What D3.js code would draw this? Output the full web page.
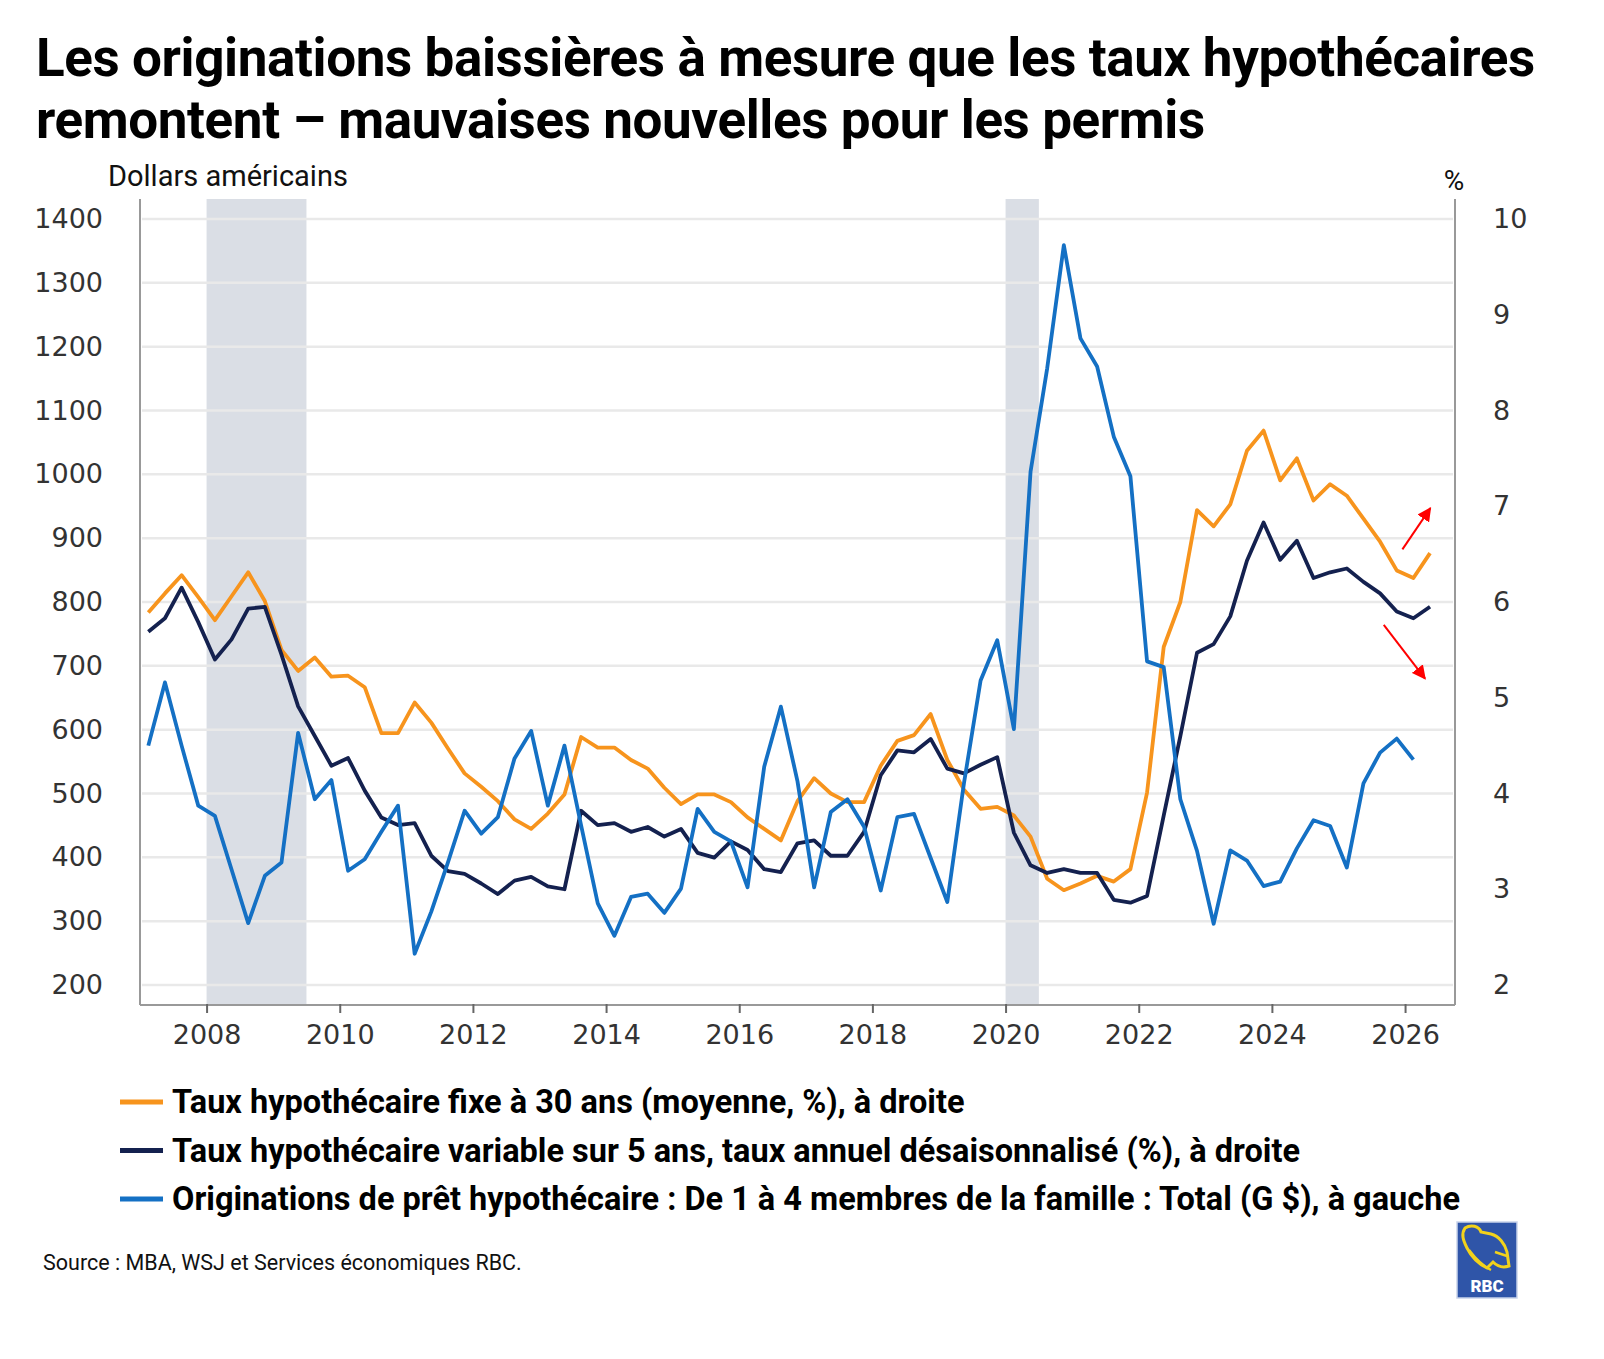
<!DOCTYPE html>
<html>
<head>
<meta charset="utf-8">
<script src="https://cdn.jsdelivr.net/npm/d3@7"></script>
<style>
  body { margin: 0; background: #fff; }
  svg { display: block; }
</style>
</head>
<body>
<svg id="chart" width="1604" height="1359"></svg>
<script>
// quarterly data, first point = 2007 Q1
var startYear = 2007;

// Originations de prêt hypothécaire (G $), left axis, 2007Q1 - 2026Q1
var originations = [575, 674, 575, 481, 465, 381, 297, 371, 392, 595,
  491, 521, 379, 397, 440, 481, 249, 315, 392, 473,
  437, 463, 555, 598, 481, 575, 450, 328, 277, 338,
  343, 313, 351, 476, 440, 425, 353, 542, 636, 519,
  353, 471, 491, 448, 348, 463, 468, 399, 330, 516,
  677, 740, 601, 1004, 1166, 1359, 1213, 1169, 1059, 997,
  707, 698, 491, 410, 296, 411, 395, 355, 362, 414,
  458, 449, 384, 516, 564, 586, 553];

// Taux fixe 30 ans (%), right axis, 2007Q1 - 2026Q2
var fixed30 = [5.89, 6.09, 6.28, 6.05, 5.81, 6.06, 6.31, 6.01, 5.50, 5.28,
  5.42, 5.22, 5.23, 5.11, 4.63, 4.63, 4.95, 4.74, 4.47, 4.21,
  4.07, 3.92, 3.73, 3.63, 3.79, 3.99, 4.59, 4.48, 4.48, 4.35,
  4.26, 4.06, 3.89, 3.99, 3.99, 3.91, 3.75, 3.63, 3.51, 3.92,
  4.16, 4.00, 3.91, 3.91, 4.29, 4.55, 4.61, 4.83, 4.35, 4.04,
  3.84, 3.86, 3.77, 3.55, 3.11, 2.99, 3.06, 3.14, 3.08, 3.21,
  4.01, 5.53, 6.00, 6.96, 6.79, 7.02, 7.58, 7.79, 7.27, 7.50,
  7.06, 7.23, 7.11, 6.87, 6.63, 6.33, 6.25, 6.51];

// Taux variable 5 ans (%), right axis, 2007Q1 - 2026Q2
var arm5 = [5.69, 5.83, 6.15, 5.79, 5.40, 5.61, 5.93, 5.95, 5.45, 4.91,
  4.60, 4.29, 4.37, 4.03, 3.75, 3.67, 3.69, 3.35, 3.19, 3.16,
  3.06, 2.95, 3.09, 3.13, 3.03, 3.00, 3.82, 3.67, 3.69, 3.60,
  3.65, 3.55, 3.63, 3.38, 3.33, 3.50, 3.41, 3.21, 3.18, 3.48,
  3.51, 3.35, 3.35, 3.60, 4.19, 4.45, 4.43, 4.57, 4.26, 4.21,
  4.30, 4.38, 3.59, 3.25, 3.17, 3.21, 3.17, 3.17, 2.89, 2.86,
  2.93, 3.77, 4.60, 5.47, 5.56, 5.85, 6.43, 6.83, 6.44, 6.64,
  6.25, 6.31, 6.35, 6.21, 6.09, 5.90, 5.83, 5.95];

// recessions (decimal years)
var recessions = [[2008.0, 2009.5], [2020.0, 2020.5]];

var leftTicks = [200, 300, 400, 500, 600, 700, 800, 900, 1000, 1100, 1200, 1300, 1400];
var rightTicks = [2, 3, 4, 5, 6, 7, 8, 9, 10];
var yearTicks = [2008, 2010, 2012, 2014, 2016, 2018, 2020, 2022, 2024, 2026];

// red arrows: [fromYear, fromPct, toYear, toPct]
var arrows = [[2025.96, 6.55, 2026.38, 6.98], [2025.68, 5.76, 2026.3, 5.2]];

var series = [
  { name: "Taux hypothécaire fixe à 30 ans (moyenne, %), à droite", values: fixed30, axis: "right", color: "#f7941d" },
  { name: "Taux hypothécaire variable sur 5 ans, taux annuel désaisonnalisé (%), à droite", values: arm5, axis: "right", color: "#14214f" },
  { name: "Originations de prêt hypothécaire : De 1 à 4 membres de la famille : Total (G $), à gauche", values: originations, axis: "left", color: "#1470c4" }
];

var svg = d3.select("#chart");

var plotLeft = 140, plotRight = 1455, plotTop = 219, plotBottom = 985, axisBottom = 1005, axisTop = 199;

var x = d3.scaleLinear().domain([2007, 2026.75]).range([plotLeft, plotRight]);
var yL = d3.scaleLinear().domain([200, 1400]).range([plotBottom, plotTop]);
var yR = d3.scaleLinear().domain([2, 10]).range([plotBottom, plotTop]);

function qTime(i) { return startYear + (i * 3 + 1.5) / 12; }

// title
var title = svg.append("g").attr("font-family", "Roboto, sans-serif").attr("font-weight", 700)
  .attr("font-size", 53).attr("fill", "#000");
title.append("text").attr("x", 36).attr("y", 76).attr("letter-spacing", -0.4)
  .text("Les originations baissières à mesure que les taux hypothécaires");
title.append("text").attr("x", 36).attr("y", 138).attr("letter-spacing", -0.4)
  .text("remontent – mauvaises nouvelles pour les permis");

svg.append("text").attr("x", 108).attr("y", 186).attr("font-family", "Roboto, sans-serif")
  .attr("font-size", 29).attr("fill", "#111").text("Dollars américains");
svg.append("text").attr("x", 1454).attr("y", 190).attr("font-family", "Roboto, sans-serif")
  .attr("font-size", 28).attr("text-anchor", "middle").attr("fill", "#111").text("%");

// recession bands
svg.selectAll("rect.rec").data(recessions).enter().append("rect")
  .attr("class", "rec")
  .attr("x", d => x(d[0])).attr("width", d => x(d[1]) - x(d[0]))
  .attr("y", axisTop).attr("height", axisBottom - axisTop)
  .attr("fill", "#dadee5");

// gridlines
svg.selectAll("line.grid").data(leftTicks).enter().append("line")
  .attr("class", "grid")
  .attr("x1", plotLeft + 2).attr("x2", plotRight - 2)
  .attr("y1", d => yL(d)).attr("y2", d => yL(d))
  .attr("stroke", "#e9e9e9").attr("stroke-width", 2.5);

// axes
var axisG = svg.append("g").attr("stroke", "#999").attr("stroke-width", 2);
axisG.append("line").attr("x1", plotLeft).attr("x2", plotLeft).attr("y1", axisTop).attr("y2", axisBottom);
axisG.append("line").attr("x1", plotRight).attr("x2", plotRight).attr("y1", axisTop).attr("y2", axisBottom);
axisG.append("line").attr("x1", plotLeft).attr("x2", plotRight).attr("y1", axisBottom).attr("y2", axisBottom);

var xAxis = d3.axisBottom(x).tickValues(yearTicks).tickFormat(d3.format("d")).tickSize(8).tickPadding(12);
var gx = svg.append("g").attr("transform", "translate(0," + axisBottom + ")").call(xAxis);
gx.select(".domain").remove();
gx.selectAll(".tick line").attr("stroke", "#666").attr("stroke-width", 2).attr("y1", -1);
gx.selectAll(".tick text").attr("font-family", "DejaVu Sans, sans-serif").attr("font-size", 27).attr("fill", "#333");

var yAxisL = d3.axisLeft(yL).tickValues(leftTicks).tickFormat(d3.format("d")).tickSize(0).tickPadding(37);
var gl = svg.append("g").attr("transform", "translate(" + plotLeft + ",0)").call(yAxisL);
gl.select(".domain").remove();
gl.selectAll(".tick text").attr("font-family", "DejaVu Sans, sans-serif").attr("font-size", 27).attr("fill", "#333");

var yAxisR = d3.axisRight(yR).tickValues(rightTicks).tickFormat(d3.format("d")).tickSize(0).tickPadding(38);
var gr = svg.append("g").attr("transform", "translate(" + plotRight + ",0)").call(yAxisR);
gr.select(".domain").remove();
gr.selectAll(".tick text").attr("font-family", "DejaVu Sans, sans-serif").attr("font-size", 27).attr("fill", "#333");

// lines
series.forEach(function (s) {
  var yS = s.axis === "left" ? yL : yR;
  var line = d3.line().x((d, i) => x(qTime(i))).y(d => yS(d));
  svg.append("path").datum(s.values)
    .attr("d", line)
    .attr("fill", "none")
    .attr("stroke", s.color)
    .attr("stroke-width", 3.8)
    .attr("stroke-linejoin", "round");
});

// arrows
var defs = svg.append("defs");
defs.append("marker").attr("id", "arrowhead")
  .attr("viewBox", "0 0 10 10").attr("refX", 9).attr("refY", 5)
  .attr("markerWidth", 7).attr("markerHeight", 7).attr("orient", "auto")
  .attr("markerUnits", "strokeWidth")
  .append("path").attr("d", "M0,0 L10,5 L0,10 Z").attr("fill", "#ff0000");
svg.selectAll("line.arrow").data(arrows).enter().append("line")
  .attr("class", "arrow")
  .attr("x1", d => x(d[0])).attr("y1", d => yR(d[1]))
  .attr("x2", d => x(d[2])).attr("y2", d => yR(d[3]))
  .attr("stroke", "#ff0000").attr("stroke-width", 2)
  .attr("marker-end", "url(#arrowhead)");

// legend
var leg = svg.append("g");
series.forEach(function (s, i) {
  var ly = 1102 + i * 48.5;
  leg.append("line").attr("x1", 120).attr("x2", 163).attr("y1", ly).attr("y2", ly)
    .attr("stroke", s.color).attr("stroke-width", 5);
  leg.append("text").attr("x", 172).attr("y", ly + 11)
    .attr("font-family", "Roboto, sans-serif").attr("font-weight", 700)
    .attr("font-size", 32.5).attr("fill", "#000").text(s.name);
});

// source
svg.append("text").attr("x", 43).attr("y", 1270)
  .attr("font-family", "Roboto, sans-serif").attr("font-size", 21.5).attr("fill", "#111")
  .text("Source : MBA, WSJ et Services économiques RBC.");

// RBC logo (simplified)
var logo = svg.append("g").attr("transform", "translate(1457,1222)");
logo.append("rect").attr("width", 60).attr("height", 76).attr("fill", "#2f55a8")
  .attr("stroke", "#c9d3ea").attr("stroke-width", 1.5);
logo.append("path")
  .attr("d", "M8,6 C14,2 22,4 24,10 L34,12 C42,14 48,22 50,30 L52,44 C46,46 40,44 36,40 L30,46 C22,42 14,34 10,26 C6,18 4,12 8,6 Z")
  .attr("fill", "none").attr("stroke", "#f2d21b").attr("stroke-width", 3);
logo.append("path")
  .attr("d", "M12,28 C18,36 26,44 34,48 M38,30 L50,34")
  .attr("fill", "none").attr("stroke", "#f2d21b").attr("stroke-width", 2.5);
logo.append("text").attr("x", 30).attr("y", 70).attr("text-anchor", "middle")
  .attr("font-family", "Roboto, sans-serif").attr("font-weight", 900).attr("font-size", 17)
  .attr("fill", "#fff").text("RBC");
</script>
</body>
</html>
